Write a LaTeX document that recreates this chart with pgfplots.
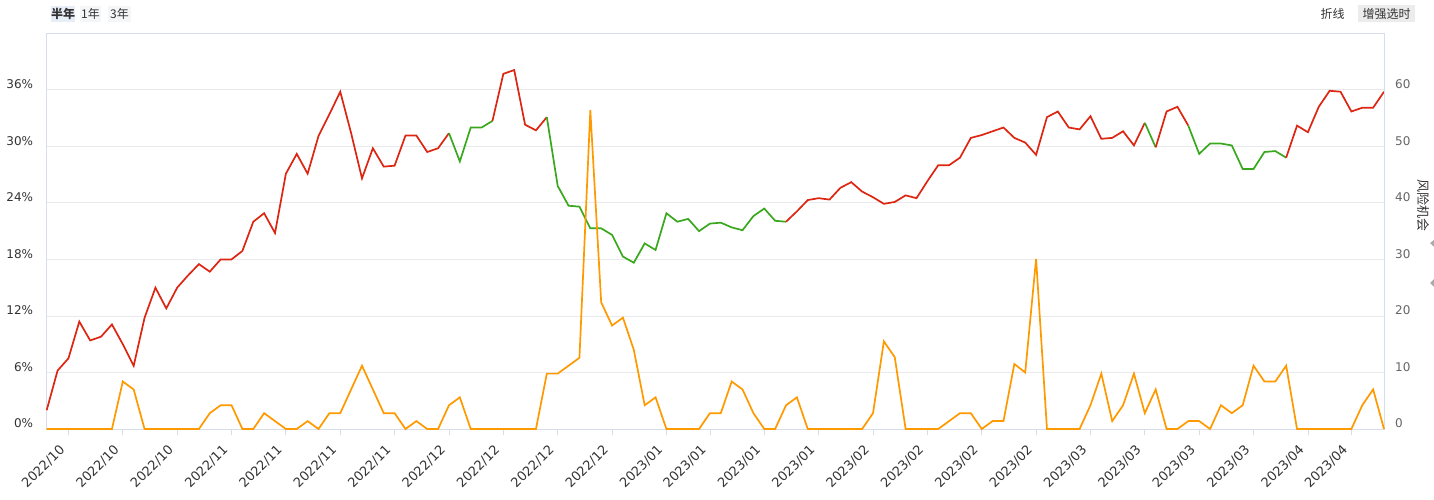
\documentclass[border=0pt]{standalone}
\usepackage{pgfplots}
\pgfplotsset{compat=1.18}
\usepackage{pgfplotstable}
\usepackage{fontspec}
\setmainfont{DejaVu Sans}
\newfontfamily\cjk{Noto Sans CJK SC}
\definecolor{lred}{RGB}{221,38,18}
\definecolor{lgreen}{RGB}{58,168,30}
\definecolor{lorange}{RGB}{255,153,0}
\definecolor{gridc}{RGB}{232,234,238}
\definecolor{axc}{RGB}{214,222,236}
\definecolor{txt}{RGB}{51,51,51}
\definecolor{txt2}{RGB}{102,102,102}
\definecolor{btnblue}{RGB}{232,238,248}
\definecolor{btngrey}{RGB}{245,246,247}
\definecolor{btngrey2}{RGB}{236,236,236}
\definecolor{trig}{RGB}{170,170,170}

\pgfplotstableread{
i r o
0 2.0 0
1 6.2 0
2 7.5 0
3 11.4 0
4 9.4 0
5 9.8 0
6 11.1 0
7 9.0 8.4
8 6.7 7.0
9 11.8 0
10 15.0 0
11 12.8 0
12 15.0 0
13 16.3 0
14 17.5 0
15 16.7 2.8
16 18.0 4.2
17 18.0 4.2
18 18.9 0
19 22.0 0
20 22.9 2.8
21 20.8 1.4
22 27.1 0
23 29.2 0
24 27.1 1.4
25 31.1 0
26 33.4 2.8
27 35.8 2.8
28 31.4 7.0
29 26.6 11.2
30 29.8 7.0
31 27.85 2.8
32 27.95 2.8
33 31.15 0
34 31.15 1.4
35 29.4 0
36 29.8 0
37 31.4 4.2
38 28.4 5.6
39 32.0 0
40 32.0 0
41 32.7 0
42 37.7 0
43 38.1 0
44 32.3 0
45 31.7 0
46 33.1 9.8
47 25.8 9.8
48 23.7 11.2
49 23.6 12.6
50 21.3 56.4
51 21.3 22.4
52 20.6 18.3
53 18.3 19.7
54 17.65 14.0
55 19.7 4.2
56 19.0 5.6
57 22.9 0
58 22.0 0
59 22.3 0
60 21.0 0
61 21.8 2.8
62 21.9 2.8
63 21.4 8.4
64 21.1 7.0
65 22.6 2.8
66 23.4 0
67 22.1 0
68 22.0 4.2
69 23.1 5.6
70 24.3 0
71 24.5 0
72 24.35 0
73 25.6 0
74 26.2 0
75 25.2 0
76 24.6 2.8
77 23.9 15.5
78 24.1 12.7
79 24.8 0
80 24.5 0
81 26.3 0
82 28.0 0
83 28.0 1.4
84 28.8 2.8
85 30.9 2.8
86 31.2 0
87 31.6 1.4
88 32.0 1.4
89 30.9 11.5
90 30.4 10.0
91 29.1 30.1
92 33.1 0
93 33.7 0
94 32.0 0
95 31.8 0
96 33.2 4.2
97 30.8 9.8
98 30.9 1.4
99 31.6 4.2
100 30.1 9.8
101 32.5 2.8
102 29.9 7.0
103 33.7 0
104 34.2 0
105 32.2 1.4
106 29.2 1.4
107 30.3 0
108 30.3 4.2
109 30.1 2.8
110 27.6 4.2
111 27.6 11.2
112 29.4 8.4
113 29.5 8.4
114 28.8 11.2
115 32.2 0
116 31.5 0
117 34.2 0
118 35.9 0
119 35.8 0
120 33.7 0
121 34.1 4.2
122 34.1 7.0
123 35.8 0
}\datatable

\begin{document}
\begin{tikzpicture}[x=1pt,y=1pt]
\path[use as bounding box] (0,0) rectangle (1434,499);
\fill[white] (0,0) rectangle (1434,499);
% header buttons
\fill[btnblue] (51,477) rectangle (75,493);
\node[text=txt,font=\cjk\bfseries\fontsize{12}{14}\selectfont,inner sep=0pt] at (63,485.5) {半年};
\fill[btngrey] (80,477) rectangle (101,493);
\node[text=txt,font=\cjk\fontsize{12}{14}\selectfont,inner sep=0pt] at (90.5,485.5) {1年};
\fill[btngrey] (108,477) rectangle (131,493);
\node[text=txt,font=\cjk\fontsize{12}{14}\selectfont,inner sep=0pt] at (119.5,485.5) {3年};
\node[text=txt,font=\cjk\fontsize{12}{14}\selectfont,inner sep=0pt] at (1332.5,485.5) {折线};
\fill[btngrey2] (1358,477) rectangle (1415,494);
\node[text=txt,font=\cjk\fontsize{12}{14}\selectfont,inner sep=0pt] at (1386.5,485.5) {增强选时};
\node[text=txt,font=\cjk\fontsize{13}{15}\selectfont,inner sep=0pt,rotate=-90] at (1423,294) {风险机会};
\fill[trig] (1430,256) -- (1434,252) -- (1434,259) -- cycle;
\fill[trig] (1430,216) -- (1434,212) -- (1434,220) -- cycle;

\begin{axis}[
  at={(46.7pt,70pt)}, anchor=south west,
  scale only axis, width=1337.3pt, height=395.7pt,
  xmin=0, xmax=123, ymin=0, ymax=42,
  axis line style={draw=axc},
  grid=major, major grid style={draw=gridc, line width=0.8pt},
  xmajorgrids=false,
  ytick={0,6,12,18,24,30,36},
  yticklabels={0\%,6\%,12\%,18\%,24\%,30\%,36\%},
  ytick style={draw=none},
  yticklabel style={anchor=base east, inner sep=0pt, xshift=-13.4pt, yshift=1.2pt, text=txt, font=\fontsize{12}{14}\selectfont},
  xtick={2,7,12,17,22,27,32,37,42,47,52,57,61,66,71,76,81,86,91,96,101,106,111,116,120},
  xticklabels={2022/10,2022/10,2022/10,2022/11,2022/11,2022/11,2022/11,2022/12,2022/12,2022/12,2022/12,2023/01,2023/01,2023/01,2023/01,2023/02,2023/02,2023/02,2023/02,2023/03,2023/03,2023/03,2023/03,2023/04,2023/04},
  xtick pos=bottom, xtick align=outside,
  major tick length=6pt,
  x tick style={draw=axc, line width=0.8pt},
  xticklabel style={rotate=45, anchor=north east, inner sep=0pt, xshift=-13pt, yshift=1pt, text=txt, font=\fontsize{13}{15}\selectfont},
  clip=false,
]
\addplot[lred, line width=1.7pt, restrict x to domain=0:37] table[x=i,y=r]{\datatable};
\addplot[lgreen, line width=1.7pt, restrict x to domain=37:41] table[x=i,y=r]{\datatable};
\addplot[lred, line width=1.7pt, restrict x to domain=41:46] table[x=i,y=r]{\datatable};
\addplot[lgreen, line width=1.7pt, restrict x to domain=46:68] table[x=i,y=r]{\datatable};
\addplot[lred, line width=1.7pt, restrict x to domain=68:101] table[x=i,y=r]{\datatable};
\addplot[lgreen, line width=1.7pt, restrict x to domain=101:102] table[x=i,y=r]{\datatable};
\addplot[lred, line width=1.7pt, restrict x to domain=102:105] table[x=i,y=r]{\datatable};
\addplot[lgreen, line width=1.7pt, restrict x to domain=105:114] table[x=i,y=r]{\datatable};
\addplot[lred, line width=1.7pt, restrict x to domain=114:123] table[x=i,y=r]{\datatable};
\end{axis}

\begin{axis}[
  at={(46.7pt,70pt)}, anchor=south west,
  scale only axis, width=1337.3pt, height=395.7pt,
  xmin=0, xmax=123, ymin=0, ymax=70,
  axis x line=none, axis y line*=right,
  axis line style={draw=axc, -},
  ytick={0,10,20,30,40,50,60},
  yticklabels={0,10,20,30,40,50,60},
  ytick style={draw=none},
  yticklabel style={anchor=base west, inner sep=0pt, xshift=11pt, yshift=1.2pt, text=txt2, font=\fontsize{12}{14}\selectfont},
  clip=false,
]
\addplot[lorange, line width=1.7pt] table[x=i,y=o]{\datatable};
\end{axis}
\end{tikzpicture}
\end{document}
